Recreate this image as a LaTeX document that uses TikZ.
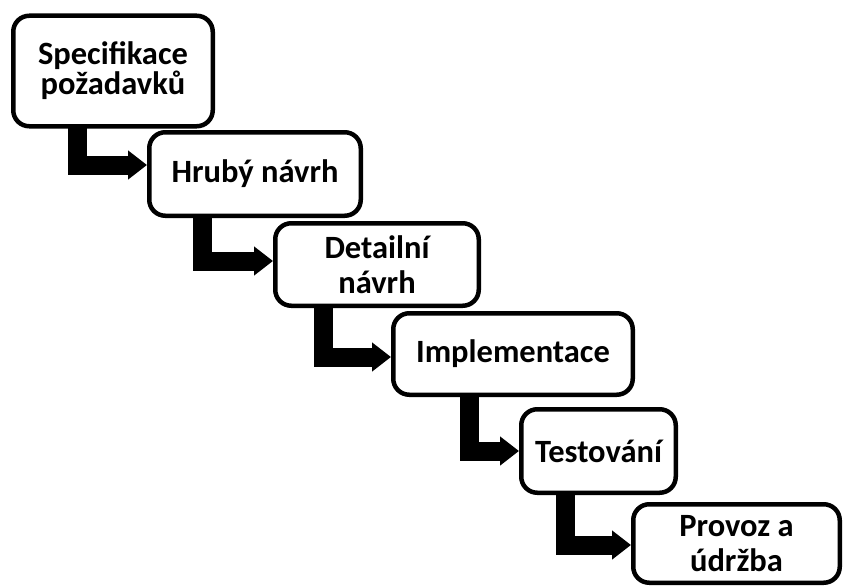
\documentclass[tikz,border=0pt]{standalone}
\usepackage{fontspec}
\setmainfont{Carlito}
\usetikzlibrary{arrows.meta}
\begin{document}
\begin{tikzpicture}[x=1pt,y=1pt,
  phase/.style={draw=black, fill=white, line width=4.5pt, rounded corners=16pt,
    align=center, inner sep=0pt, font=\fontsize{32.5}{30}\selectfont\bfseries},
  wide lines/.style={font=\fontsize{32.5}{35}\selectfont\bfseries},
  flow/.style={line width=19pt, line join=miter,
    -{Triangle[width=28pt,length=19pt]}}]
\useasboundingbox (0,0) rectangle (843,-586);

% waterfall phases
\node[phase, minimum width=199.5pt, minimum height=110.5pt] (b1) at (113,-71) {Specifikace\\požadavků};
\node[phase, minimum width=211.5pt, minimum height=83.5pt] (b2) at (255,-174) {Hrubý návrh};
\node[phase, wide lines, minimum width=203.5pt, minimum height=82.5pt] (b3) at (377,-264.5) {Detailní\\návrh};
\node[phase, minimum width=239.5pt, minimum height=81.5pt] (b4) at (513,-354) {Implementace};
\node[phase, minimum width=154.5pt, minimum height=83.5pt] (b5) at (598.5,-451) {Testování};
\node[phase, wide lines, minimum width=206.5pt, minimum height=78.5pt] (b6) at (736.5,-543.5) {Provoz a\\údržba};

% step arrows
\draw[flow] ([xshift=66pt,yshift=2pt]b1.south west) |- ([yshift=9pt]b2.west);
\draw[flow] ([xshift=55pt,yshift=2pt]b2.south west) |- ([yshift=3.5pt]b3.west);
\draw[flow] ([xshift=50pt,yshift=2pt]b3.south west) |- ([yshift=-3pt]b4.west);
\draw[flow] ([xshift=78pt,yshift=2pt]b4.south west) |- (b5.west);
\draw[flow] ([xshift=46.5pt,yshift=2pt]b5.south west) |- ([yshift=-1.5pt]b6.west);
\end{tikzpicture}
\end{document}
